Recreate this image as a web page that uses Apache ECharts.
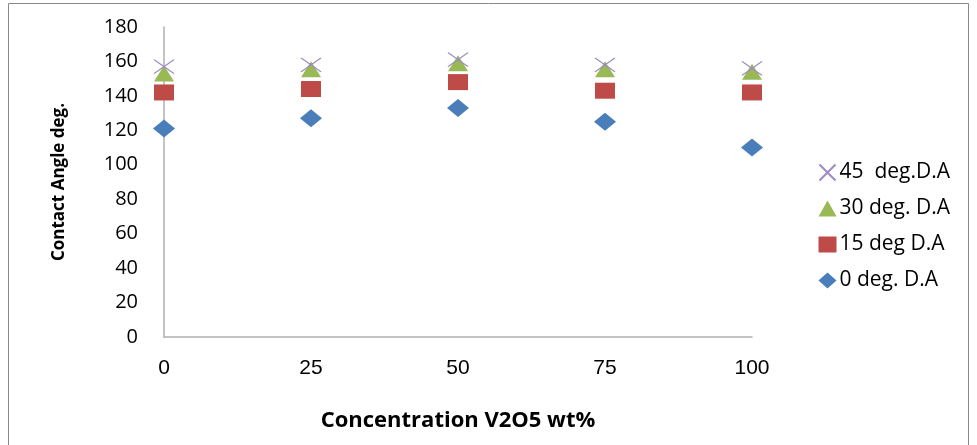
<!DOCTYPE html>
<html><head><meta charset="utf-8">
<script src="https://cdn.jsdelivr.net/npm/echarts@6/dist/echarts.min.js"></script>
<style>html,body{margin:0;padding:0;background:#fff}#c{width:977px;height:445px}</style>
</head><body><div id="c"></div>
<script>
var xValues = [0, 25, 50, 75, 100];
var deg0 = [121, 127, 133, 125, 110];
var deg15 = [142, 144, 148, 143, 142];
var deg30 = [153, 155.5, 159, 155.5, 154];
var deg45 = [157, 158, 161, 158, 156];
var seriesNames = ['45  deg.D.A', '30 deg. D.A', '15 deg D.A', '0 deg. D.A'];
var xTitle = 'Concentration V2O5 wt%';
var yTitle = 'Contact Angle deg.';

function pts(v){ return xValues.map(function(x,i){ return [x, v[i]]; }); }
var crossPath = 'path://M0,0L10,10M10,0L0,10';
var chart = echarts.init(document.getElementById('c'));
chart.setOption({
  animation: false,
  graphic: [{type:'rect', shape:{x:8.5,y:3.5,width:960,height:445}, style:{fill:'none', stroke:'#888', lineWidth:1}}],
  grid: {left:164, top:27, width:588, height:310},
  xAxis: {type:'value', min:0, max:100, interval:25,
    axisLine:{show:true, lineStyle:{color:'#b0b0b0', width:1.5}}, axisTick:{show:false}, splitLine:{show:false},
    axisLabel:{color:'#000', fontSize:21, fontFamily:'Liberation Sans', margin:21},
    name: xTitle, nameLocation:'middle', nameGap:73,
    nameTextStyle:{color:'#000', fontSize:22, fontFamily:'Open Sans', fontWeight:'bold'}},
  yAxis: {type:'value', min:0, max:180, interval:20,
    axisLine:{show:true, lineStyle:{color:'#b0b0b0', width:1.5}}, axisTick:{show:false}, splitLine:{show:false},
    axisLabel:{color:'#000', fontSize:20, fontFamily:'Open Sans', margin:26},
    name: yTitle, nameLocation:'middle', nameGap:96,
    nameTextStyle:{color:'#000', fontSize:17, fontFamily:'Open Sans', fontWeight:'bold'}},
  legend: {orient:'vertical', left:812, top:157, itemGap:15, itemWidth:18, itemHeight:16,
    textStyle:{color:'#000', fontSize:21, fontFamily:'Open Sans', padding:[0,0,0,-2]},
    data: seriesNames},
  series: [
    {name:seriesNames[3], type:'scatter', data:pts(deg0), symbol:'diamond', symbolSize:[22,18], itemStyle:{color:'#4a7ebb', opacity:1}},
    {name:seriesNames[2], type:'scatter', data:pts(deg15), symbol:'rect', symbolSize:[20,16], itemStyle:{color:'#be4b48', opacity:1}},
    {name:seriesNames[1], type:'scatter', data:pts(deg30), symbol:'triangle', symbolSize:[20,16], itemStyle:{color:'#98b954', opacity:1}},
    {name:seriesNames[0], type:'scatter', data:pts(deg45), symbol:crossPath, symbolSize:[20,14], itemStyle:{color:'none', borderColor:'#9c8ac4', borderWidth:1.2, opacity:1}}
  ]
});
</script></body></html>
